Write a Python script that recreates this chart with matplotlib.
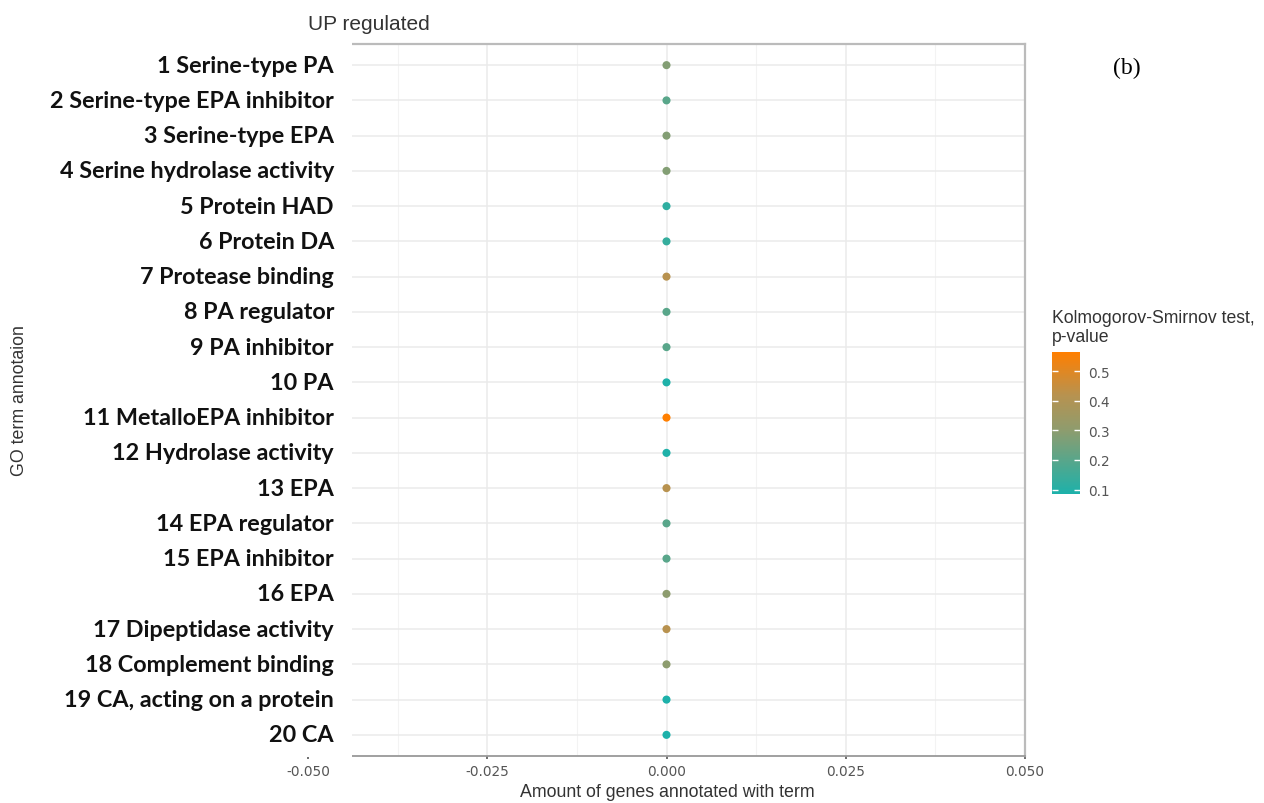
import numpy as np
import matplotlib
matplotlib.use("Agg")
import matplotlib.pyplot as plt
from matplotlib.colors import LinearSegmentedColormap, Normalize
from matplotlib.patches import Rectangle
from matplotlib.transforms import blended_transform_factory
import matplotlib.cm as cm

terms = [
    "1 Serine-type PA",
    "2 Serine-type EPA inhibitor",
    "3 Serine-type EPA",
    "4 Serine hydrolase activity",
    "5 Protein HAD",
    "6 Protein DA",
    "7 Protease binding",
    "8 PA regulator",
    "9 PA inhibitor",
    "10 PA",
    "11 MetalloEPA inhibitor",
    "12 Hydrolase activity",
    "13 EPA",
    "14 EPA regulator",
    "15 EPA inhibitor",
    "16 EPA",
    "17 Dipeptidase activity",
    "18 Complement binding",
    "19 CA, acting on a protein",
    "20 CA",
]
amount = [0.0] * 20
pvalues = [0.28, 0.20, 0.28, 0.28, 0.12, 0.13, 0.42, 0.20, 0.20, 0.09,
           0.565, 0.09, 0.42, 0.20, 0.20, 0.30, 0.42, 0.30, 0.085, 0.085]
xticks = [-0.050, -0.025, 0.000, 0.025, 0.050]
xticklabels = ["-0.050", "-0.025", "0.000", "0.025", "0.050"]
cbar_ticks = [0.1, 0.2, 0.3, 0.4, 0.5]

cmap = LinearSegmentedColormap.from_list(
    "ks", [(0.0, "#1DB1AA"), (0.45, "#8E9C6E"), (0.7, "#B8924F"), (1.0, "#FF7F00")])
norm = Normalize(vmin=min(pvalues), vmax=max(pvalues))

W, H = 1264, 804
fig = plt.figure(figsize=(W / 100, H / 100), dpi=100)
fig.patch.set_facecolor("white")

ax_l, ax_r, ax_t, ax_b = 308, 1025, 45, 757
ax = fig.add_axes([ax_l / W, 1 - ax_b / H, (ax_r - ax_l) / W, (ax_b - ax_t) / H])

ypos = np.arange(1, len(terms) + 1)
ax.scatter(amount, ypos, c=pvalues, cmap=cmap, norm=norm, s=34, zorder=5,
           edgecolors="none")
ax.set_xlim(-0.05, 0.05)
ax.set_ylim(len(terms) + 0.6, 0.4)

ax.set_xticks(xticks)
ax.set_xticklabels(xticklabels)
ax.set_xticks([-0.0375, -0.0125, 0.0125, 0.0375], minor=True)
ax.set_yticks(ypos)
ax.set_yticklabels([])
ax.tick_params(axis="y", length=0)
ax.tick_params(axis="x", which="major", length=2.5, width=1.2, color="#555555",
               labelsize=9.8, labelcolor="#555555", pad=3)
ax.tick_params(axis="x", which="minor", length=0)

ax.grid(True, which="major", color="#EBEBEB", linewidth=1.1, zorder=0)
ax.grid(True, which="minor", axis="x", color="#F3F3F3", linewidth=0.8, zorder=0)
ax.set_axisbelow(True)

for side in ["top", "right"]:
    ax.spines[side].set_color("#BBBBBB")
    ax.spines[side].set_linewidth(1.6)
ax.spines["bottom"].set_color("#999999")
ax.spines["bottom"].set_linewidth(1.3)
ax.spines["left"].set_visible(False)

# white label panel covering the left part of the plotting panel
cover_w = (352 - ax_l) / (ax_r - ax_l)
ax.add_patch(Rectangle((-0.01, -0.002), cover_w + 0.01, 1.012,
                       transform=ax.transAxes, facecolor="white",
                       edgecolor="none", zorder=3, clip_on=False))

# category labels (drawn above the label panel)
trans = blended_transform_factory(ax.transAxes, ax.transData)
label_x = (334 - ax_l) / (ax_r - ax_l)
for yv, term in zip(ypos, terms):
    ax.text(label_x, yv, term, transform=trans, ha="right", va="center",
            fontfamily="Lato", fontweight="bold", fontsize=16.8,
            color="#111111", zorder=10, clip_on=False)

ax.set_title("UP regulated", loc="left", fontsize=15, color="#333333",
             fontfamily="Liberation Sans", pad=11)
fig.text(667 / W, 1 - 793 / H, "Amount of genes annotated with term",
         ha="center", va="center", fontsize=12.8, color="#333333",
         fontfamily="Liberation Sans")
fig.text(20 / W, 1 - 401 / H, "GO term annotaion", rotation=90,
         ha="center", va="center", fontsize=12.8, color="#333333",
         fontfamily="Liberation Sans")

# colorbar
cax = fig.add_axes([1052 / W, 1 - 495 / H, 28 / W, 142 / H])
sm = cm.ScalarMappable(norm=norm, cmap=cmap)
cb = fig.colorbar(sm, cax=cax, ticks=cbar_ticks)
cb.outline.set_visible(False)
cax.tick_params(length=4, width=1, color="white", direction="in",
                labelsize=9.8, labelcolor="#555555", pad=6, right=True, left=True)
cax.set_yticklabels([f"{t:.1f}" for t in cbar_ticks])
fig.text(1052 / W, 1 - 328 / H, "Kolmogorov-Smirnov test,\np-value",
         ha="left", va="center", fontsize=12.7, color="#333333",
         fontfamily="Liberation Sans", linespacing=1.15)

fig.text(1127 / W, 1 - 68 / H, "(b)", ha="center", va="center", fontsize=17,
         fontfamily="Liberation Serif", color="black")

fig.savefig("out.png", dpi=100)
